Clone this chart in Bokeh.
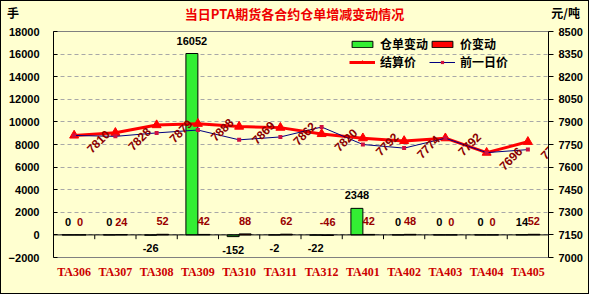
import numpy as np
from bokeh.plotting import figure
from bokeh.layouts import column
from bokeh.models import (Range1d, LinearAxis, FixedTicker, ColumnDataSource, Span,
                          Legend, LegendItem, Div)
from bokeh.core.properties import value
from bokeh.embed import file_html
from bokeh.resources import INLINE

# ---- data ----
contracts = ["TA306", "TA307", "TA308", "TA309", "TA310", "TA311",
             "TA312", "TA401", "TA402", "TA403", "TA404", "TA405"]
warrant_change = [0, 0, -26, 16052, -152, -2, -22, 2348, 0, 0, 0, 14]
price_change = [0, 24, 52, 42, 88, 62, -46, 42, 48, 0, 0, 52]
settle_price = [7810, 7828, 7879, 7888, 7869, 7862, 7820, 7792, 7774, 7792, 7696, 7768]
prev_price = [7810, 7804, 7827, 7846, 7781, 7800, 7866, 7750, 7726, 7792, 7696, 7716]
left_ticks = list(range(-2000, 18001, 2000))
right_ticks = list(range(7000, 8501, 150))

title_text = "当日PTA期货各合约仓单增减变动情况"
left_unit = "手"
right_unit = "元/吨"

BG = "#FFFFD0"
CJK = "Noto Sans CJK SC"
NUM = "Liberation Sans"

n = len(contracts)
xc = np.arange(n) + 0.5
bw = 0.29

wc = np.array(warrant_change)
pc = np.array(price_change)

src = ColumnDataSource(dict(
    xg=xc - bw / 2, xr=xc + bw / 2, xc=xc,
    wc=wc, pc=pc,
    wc_txt=[str(v) for v in warrant_change],
    pc_txt=[str(v) for v in price_change],
    wc_off=np.where(wc >= 0, -13, 13),
    pc_top=np.maximum(pc, 0),
    settle=settle_price, prev=prev_price,
    settle_txt=[str(v) for v in settle_price],
))

p = figure(frame_width=495, frame_height=226, output_backend="svg", toolbar_location=None,
           x_range=Range1d(0, n), y_range=Range1d(left_ticks[0], left_ticks[-1]),
           min_border_left=52, min_border_right=40, min_border_top=7, min_border_bottom=36)
p.background_fill_color = BG
p.border_fill_color = BG
p.outline_line_color = "#808080"
p.outline_line_width = 1
p.extra_y_ranges = {"price": Range1d(right_ticks[0], right_ticks[-1])}

# axes
xa = p.xaxis[0]
xa.ticker = FixedTicker(ticks=list(xc))
xa.major_label_overrides = {float(x): c for x, c in zip(xc, contracts)}
xa.axis_line_color = None
xa.major_tick_line_color = None
xa.minor_tick_line_color = None
xa.major_label_standoff = 1
xa.major_label_text_font = "Liberation Serif"
xa.major_label_text_font_style = "bold"
xa.major_label_text_font_size = "12px"
xa.major_label_text_color = "#CC0000"

ya = p.yaxis[0]
ya.ticker = FixedTicker(ticks=left_ticks)
ya.axis_line_color = "black"
ya.major_tick_in = 4
ya.major_tick_out = 0
ya.minor_tick_line_color = None
ya.major_label_standoff = 14
ya.major_label_text_font = NUM
ya.major_label_text_font_style = "bold"
ya.major_label_text_font_size = "11px"
ya.major_label_text_color = "black"

ra = LinearAxis(y_range_name="price", ticker=FixedTicker(ticks=right_ticks))
ra.axis_line_color = "black"
ra.major_tick_in = 0
ra.major_tick_out = 5
ra.minor_tick_line_color = None
ra.major_label_standoff = 5
ra.major_label_text_font = NUM
ra.major_label_text_font_style = "bold"
ra.major_label_text_font_size = "11px"
ra.major_label_text_color = "black"
p.add_layout(ra, "right")

p.xgrid.grid_line_color = None
p.ygrid.grid_line_color = "#A8A8A8"
p.ygrid.grid_line_dash = "4 3"
p.ygrid.grid_line_width = 1

# zero axis line with category boundary ticks
p.add_layout(Span(location=0, dimension="width", line_color="black", line_width=1))
bounds = np.arange(n + 1)
p.segment(x0=bounds[1:-1], x1=bounds[1:-1], y0=0, y1=-380, line_color="black", line_width=1)

# bars
g_bars = p.vbar(x="xg", top="wc", bottom=0, width=bw, source=src,
                fill_color="#33EE33", line_color="black", line_width=1)
r_bars = p.vbar(x="xr", top="pc", bottom=0, width=bw, source=src,
                fill_color="#FF0000", line_color="black", line_width=1)

# lines
s_line = p.line(x="xc", y="settle", source=src, y_range_name="price",
                line_color="#FF0000", line_width=3)
s_mark = p.scatter(x="xc", y="settle", source=src, y_range_name="price",
                   marker="triangle", size=9, fill_color="#FF0000", line_color="#FF0000")
pv_line = p.line(x="xc", y="prev", source=src, y_range_name="price",
                 line_color="#000080", line_width=1)
pv_mark = p.scatter(x="xc", y="prev", source=src, y_range_name="price",
                    marker="square", size=4, fill_color="#D01040", line_color=None)

# labels
p.text(x="xg", y="wc", text="wc_txt", source=src, y_offset="wc_off",
       text_align="center", text_baseline="middle",
       text_font=value(NUM), text_font_style="bold", text_font_size="11px", text_color="black")
p.text(x="xr", y="pc_top", text="pc_txt", source=src, y_offset=-13,
       text_align="center", text_baseline="middle",
       text_font=value(NUM), text_font_style="bold", text_font_size="11px", text_color="#990000")
p.text(x="xc", y="settle", text="settle_txt", source=src, y_range_name="price",
       x_offset=24, y_offset=6, angle=np.pi / 4,
       text_align="center", text_baseline="middle",
       text_font=value(NUM), text_font_style="bold", text_font_size="12px", text_color="#8B0000")

# legend (fills column-first)
legend = Legend(items=[
    LegendItem(label="仓单变动", renderers=[g_bars]),
    LegendItem(label="结算价", renderers=[s_line, s_mark]),
    LegendItem(label="价变动", renderers=[r_bars]),
    LegendItem(label="前一日价", renderers=[pv_line, pv_mark]),
], ncols=2, location=(292, 183))
legend.background_fill_alpha = 0
legend.border_line_alpha = 0
legend.label_text_font = CJK
legend.label_text_font_style = "bold"
legend.label_text_font_size = "12px"
legend.label_text_color = "black"
legend.glyph_width = 26
legend.glyph_height = 8
legend.label_height = 12
legend.label_standoff = 5
legend.spacing = 1
legend.padding = 4
legend.margin = 0
p.add_layout(legend)

# header with title and unit captions
font_css = f"font-family:'{CJK}';font-weight:bold;line-height:1;white-space:nowrap;"
header_html = (
    f'<div style="position:relative;width:587px;height:23px;">'
    f'<span style="position:absolute;left:6px;top:6px;font-size:12px;color:#000;{font_css}">{left_unit}</span>'
    f'<span style="position:absolute;left:0;width:587px;top:6px;text-align:center;'
    f'font-size:13px;color:#EE0000;{font_css}">{title_text}</span>'
    f'<span style="position:absolute;right:8px;top:6px;font-size:12px;color:#000;{font_css}">{right_unit}</span>'
    f'</div>'
)
header = Div(text=header_html, width=587, height=23,
             styles={"background-color": BG, "margin": "0", "padding": "0"})

layout = column(header, p, spacing=0,
                styles={"border": "1px solid black", "background-color": BG})

open("out.html", "w").write(file_html(layout, INLINE))
